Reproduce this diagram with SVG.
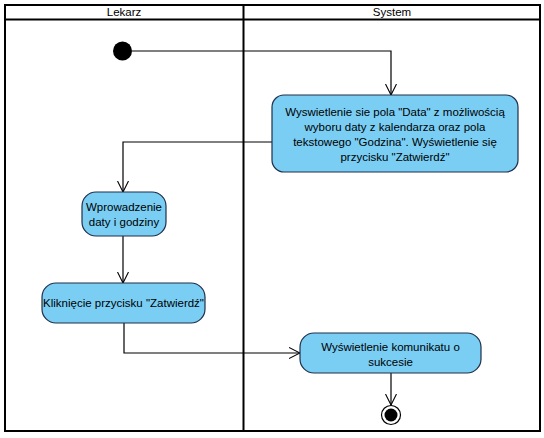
<svg xmlns="http://www.w3.org/2000/svg" width="544" height="438" viewBox="0 0 544 438">
<defs>
<style>
.lane{fill:none;stroke:#000;stroke-width:2}
.act{fill:#7ACEF4;stroke:#1F2F4A;stroke-width:1.2}
.t{font-family:"Liberation Sans",Arial,sans-serif;font-size:11.5px;fill:#000;text-anchor:middle}
.c{fill:none;stroke:#000;stroke-width:1.2}
</style>
<marker id="open" viewBox="0 0 12 12" refX="11" refY="6" markerWidth="12" markerHeight="12" markerUnits="userSpaceOnUse" orient="auto">
<path d="M0,0.5 L11,6 L0,11.5" fill="none" stroke="#000" stroke-width="1.1"/>
</marker>
</defs>
<rect width="544" height="438" fill="#fff"/>
<g id="lanes">
<rect class="lane" x="5" y="5" width="535" height="426"/>
<line class="lane" x1="5" y1="19.5" x2="540" y2="19.5"/>
<line class="lane" x1="243.5" y1="5" x2="243.5" y2="431"/>
<text class="t" x="124" y="16">Lekarz</text>
<text class="t" x="392" y="16">System</text>
</g>
<g id="connectors">
<polyline class="c" points="132,51 391,51 391,95" marker-end="url(#open)"/>
<polyline class="c" points="272,142 123,142 123,192" marker-end="url(#open)"/>
<polyline class="c" points="123,236 123,283" marker-end="url(#open)"/>
<polyline class="c" points="124,323 124,353 300,353" marker-end="url(#open)"/>
<polyline class="c" points="391,373 391,405" marker-end="url(#open)"/>
</g>
<g id="start">
<circle cx="122.5" cy="51" r="9.5" fill="#000"/>
</g>
<g id="a1">
<rect class="act" x="272" y="95" width="246" height="77" rx="12"/>
<text class="t" x="395" y="116">Wyswietlenie sie pola "Data" z możliwością</text>
<text class="t" x="395" y="131">wyboru daty z kalendarza oraz pola</text>
<text class="t" x="395" y="146">tekstowego "Godzina". Wyświetlenie się</text>
<text class="t" x="395" y="161">przycisku "Zatwierdź"</text>
</g>
<g id="a2">
<rect class="act" x="82" y="192" width="84" height="44" rx="14"/>
<text class="t" x="124" y="211">Wprowadzenie</text>
<text class="t" x="124" y="226">daty i godziny</text>
</g>
<g id="a3">
<rect class="act" x="42" y="283" width="163" height="40" rx="14"/>
<text class="t" x="123.5" y="307">Kliknięcie przycisku "Zatwierdź"</text>
</g>
<g id="a4">
<rect class="act" x="300" y="333" width="181" height="40" rx="14"/>
<text class="t" x="390.5" y="351">Wyświetlenie komunikatu o</text>
<text class="t" x="390.5" y="366">sukcesie</text>
</g>
<g id="end">
<circle cx="391" cy="415" r="9.5" fill="#fff" stroke="#000" stroke-width="1.2"/>
<circle cx="391" cy="415" r="6.5" fill="#000"/>
</g>
</svg>
